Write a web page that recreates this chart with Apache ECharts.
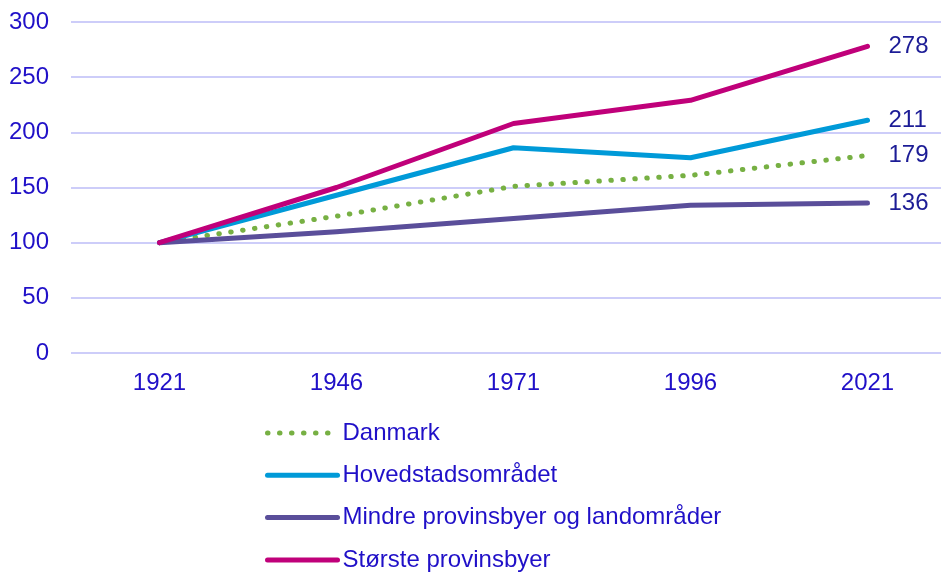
<!DOCTYPE html>
<html>
<head>
<meta charset="utf-8">
<script src="https://cdn.jsdelivr.net/npm/echarts@6/dist/echarts.min.js"></script>
<style>
  html, body { margin: 0; padding: 0; background: #fff; }
  #chart { width: 941px; height: 572px; }
</style>
</head>
<body>
<div id="chart"></div>
<script>
// data (index, 1921 = 100)
var years = ['1921', '1946', '1971', '1996', '2021'];
var danmark = [100, 124, 151, 161, 179];
var hovedstad = [100, 143, 186, 177, 211];
var mindre = [100, 110, 122, 134, 136];
var stoerste = [100, 150, 208, 229, 278];

var textBlue = '#2010c8';
var font = '"Liberation Sans", Arial, sans-serif';

function makeLine(name, data, color, dotted) {
  return {
    name: name,
    type: 'line',
    data: data,
    symbol: 'none',
    lineStyle: {
      color: color,
      width: 5,
      type: dotted ? [0.5, 11.5] : 'solid',
      cap: 'round',
      join: 'round'
    },
    itemStyle: { color: color },
    endLabel: {
      show: true,
      formatter: '{c}',
      distance: 21,
      color: '#1c1c96',
      fontSize: 24,
      fontFamily: font
    },
    emphasis: { disabled: true }
  };
}

var chart = echarts.init(document.getElementById('chart'));
chart.setOption({
  animation: false,
  grid: { left: 71, top: 22, width: 885, height: 331, outerBoundsMode: 'none' },
  xAxis: {
    type: 'category',
    data: years,
    boundaryGap: true,
    axisLine: { show: false },
    axisTick: { show: false },
    axisLabel: { color: textBlue, fontSize: 24, fontFamily: font, margin: 18 }
  },
  yAxis: {
    type: 'value',
    min: 0,
    max: 300,
    interval: 50,
    axisLabel: { color: textBlue, fontSize: 24, fontFamily: font, margin: 22 },
    splitLine: { lineStyle: { color: '#bdbdf7', width: 1.5 } }
  },
  legend: {
    orient: 'vertical',
    left: 265,
    top: 421,
    padding: 0,
    itemWidth: 70,
    itemHeight: 14,
    itemGap: 18.3,
    itemStyle: { opacity: 0 },
    lineStyle: { width: 5, cap: 'round' },
    textStyle: { color: textBlue, fontSize: 24, fontFamily: font, lineHeight: 24 },
    data: ['Danmark', 'Hovedstadsområdet', 'Mindre provinsbyer og landområder', 'Største provinsbyer']
  },
  series: [
    makeLine('Danmark', danmark, '#77b043', true),
    makeLine('Hovedstadsområdet', hovedstad, '#009ad8', false),
    makeLine('Mindre provinsbyer og landområder', mindre, '#5a4e9a', false),
    makeLine('Største provinsbyer', stoerste, '#c0007a', false)
  ]
});
</script>
</body>
</html>
